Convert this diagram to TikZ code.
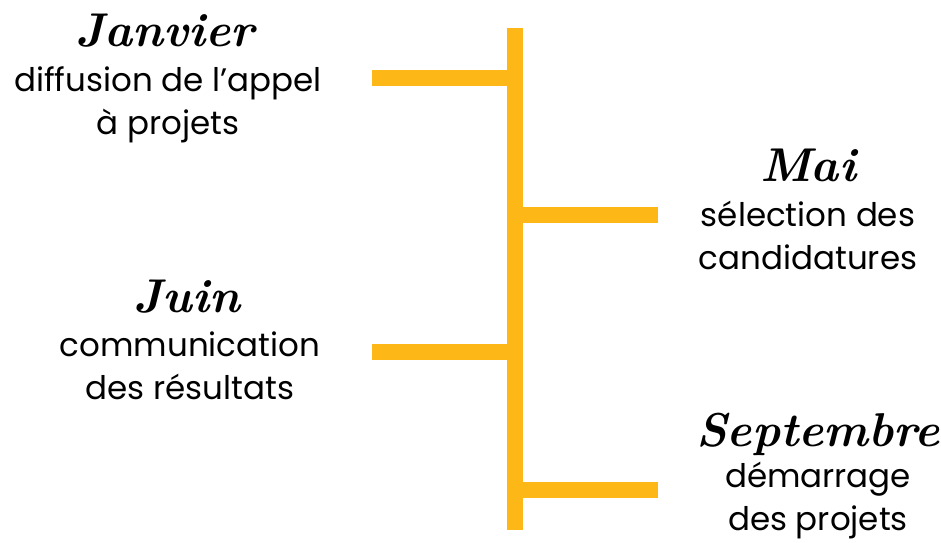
\documentclass[tikz,border=0pt]{standalone}
\usepackage{fontspec}
\setmainfont{Poppins}
\newfontfamily\monthfont{Latin Modern Roman}
\usetikzlibrary{positioning}
\definecolor{barorange}{RGB}{253,184,24}
\tikzset{
  month/.style={font=\monthfont\bfseries\itshape\fontsize{27}{29}\selectfont, anchor=base, inner sep=0pt},
  what/.style={font=\fontsize{18.5}{24.5}\selectfont, align=center, anchor=base, inner sep=0pt},
  bar/.style={barorange, line width=9pt}
}
\begin{document}
\begin{tikzpicture}[x=0.02cm,y=-0.02cm]
\useasboundingbox (0,0) rectangle (941,543);
% spine
\coordinate (top) at (515,28);
\coordinate (bot) at (515,530);
\coordinate (s1) at (515,78);
\coordinate (s2) at (515,215);
\coordinate (s3) at (515,352);
\coordinate (s4) at (515,490);
\coordinate (e1) at (372,78);
\coordinate (e2) at (658,215);
\coordinate (e3) at (372,352);
\coordinate (e4) at (658,490);
\draw[bar] (top) -- (bot);
\draw[bar] (e1) -- (s1);
\draw[bar] (s2) -- (e2);
\draw[bar] (e3) -- (s3);
\draw[bar] (s4) -- (e4);
% labels (base of a two-line node = last line)
\node[month] (jan) at (165,47) {Janvier};
\node[what] (janw) at (168,135) {diffusion de l’appel\\à projets};
\node[month] (mai) at (808,182) {Mai};
\node[what] (maiw) at (808,270) {sélection des\\candidatures};
\node[month] (juin) at (187,313) {Juin};
\node[what] (juinw) at (190,400) {communication\\des résultats};
\node[month] (sep) at (818,447) {Septembre};
\node[what] (sepw) at (818,531) {démarrage\\des projets};
\end{tikzpicture}
\end{document}
